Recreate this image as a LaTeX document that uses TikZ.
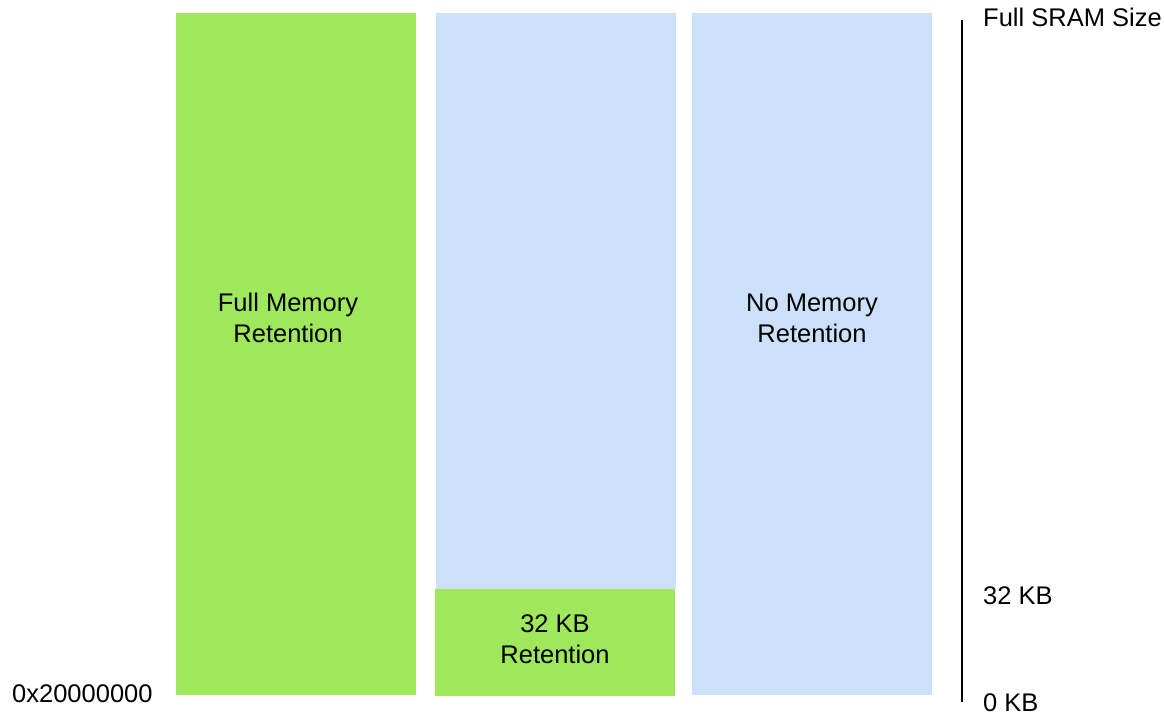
\documentclass[tikz,border=0pt]{standalone}
\usepackage{fontspec}
\setmainfont{Liberation Sans}
\definecolor{retgreen}{RGB}{159,232,91}
\definecolor{noretblue}{RGB}{205,224,249}
\begin{document}
\begin{tikzpicture}[x=1pt,y=-1pt,
  block/.style={draw=none,inner sep=0pt,outer sep=0pt},
  lbl/.style={font=\fontsize{25.5}{31}\selectfont,align=center,inner sep=0pt},
  side/.style={font=\fontsize{25.5}{31}\selectfont,inner sep=0pt,anchor=base west}]
\useasboundingbox (0,0) rectangle (1164,714);
% columns
\fill[retgreen] (176,13) rectangle (416,695);
\fill[noretblue] (436,13) rectangle (676,589);
\fill[retgreen] (435,589) rectangle (675,696);
\fill[noretblue] (692,13) rectangle (932,695);
% labels inside columns
\node[lbl] (full) at (288,318) {Full Memory\\Retention};
\node[lbl] (none) at (812,318) {No Memory\\Retention};
\node[lbl] (kb32) at (555,639) {32 KB\\Retention};
% scale line
\coordinate (top) at (962,20);
\coordinate (bot) at (962,702);
\draw[line width=2pt] (top) -- (bot);
\node[side] (sram) at (983,27) {Full SRAM Size};
\node[side] (s32) at (983,604) {32 KB};
\node[side] (s0) at (983,711.5) {0 KB};
\node[side] (addr) at (12,702) {0x20000000};
\end{tikzpicture}
\end{document}
